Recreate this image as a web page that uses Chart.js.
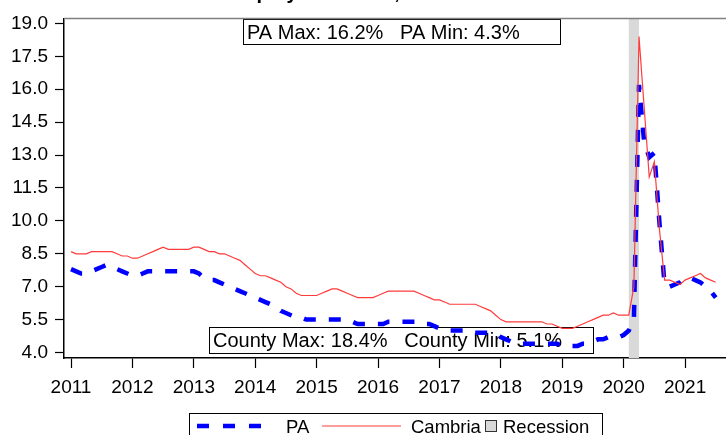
<!DOCTYPE html>
<html>
<head>
<meta charset="utf-8">
<script src="https://cdn.jsdelivr.net/npm/chart.js@4.4.1/dist/chart.umd.min.js"></script>
<style>
  html, body { margin: 0; padding: 0; background: #fff; }
  #wrap { width: 726px; height: 435px; position: relative; }
</style>
</head>
<body>
<div id="wrap"><canvas id="chart"></canvas></div>
<script>
// Місячні значення, січень 2011 - липень 2021 (індекс місяця = позиція в масиві)
const pa = [
    7.8, 7.7, 7.6, 7.6, 7.7, 7.8, 7.9, 8.0, 7.9, 7.8, 7.7, 7.6,   // 2011
    7.5, 7.5, 7.6, 7.7, 7.7, 7.7, 7.7, 7.7, 7.7, 7.7, 7.7, 7.7,   // 2012
    7.7, 7.6, 7.4, 7.3, 7.3, 7.2, 7.1, 7.0, 6.9, 6.8, 6.7, 6.6,   // 2013
    6.5, 6.4, 6.3, 6.2, 6.1, 5.9, 5.8, 5.7, 5.6, 5.6, 5.5, 5.5,   // 2014
    5.5, 5.5, 5.5, 5.5, 5.5, 5.5, 5.4, 5.4, 5.3, 5.3, 5.3, 5.3,   // 2015
    5.3, 5.3, 5.4, 5.4, 5.4, 5.4, 5.4, 5.4, 5.4, 5.3, 5.3, 5.2,   // 2016
    5.1, 5.0, 5.0, 5.0, 5.0, 5.0, 4.9, 4.9, 4.9, 4.9, 4.9, 4.8,   // 2017
    4.7, 4.6, 4.5, 4.5, 4.4, 4.4, 4.4, 4.4, 4.4, 4.4, 4.4, 4.4,   // 2018
    4.3, 4.3, 4.3, 4.3, 4.4, 4.4, 4.5, 4.6, 4.6, 4.7, 4.7, 4.7,   // 2019
    4.8, 5.0, 5.5, 16.2, 13.6, 12.9, 13.1, 9.9, 7.1, 7.0, 7.1, 7.2, // 2020
    7.4, 7.4, 7.3, 7.2, 7.0, 6.8, 6.5                              // 2021
];
const cambria = [
    8.6, 8.5, 8.5, 8.5, 8.6, 8.6, 8.6, 8.6, 8.6, 8.5, 8.4, 8.4,   // 2011
    8.3, 8.3, 8.4, 8.5, 8.6, 8.7, 8.8, 8.7, 8.7, 8.7, 8.7, 8.7,   // 2012
    8.8, 8.8, 8.7, 8.6, 8.6, 8.5, 8.5, 8.4, 8.3, 8.2, 8.0, 7.8,   // 2013
    7.6, 7.5, 7.5, 7.4, 7.3, 7.2, 7.0, 6.9, 6.7, 6.6, 6.6, 6.6,   // 2014
    6.6, 6.7, 6.8, 6.9, 6.9, 6.8, 6.7, 6.6, 6.5, 6.5, 6.5, 6.5,   // 2015
    6.6, 6.7, 6.8, 6.8, 6.8, 6.8, 6.8, 6.8, 6.7, 6.6, 6.5, 6.4,   // 2016
    6.4, 6.3, 6.2, 6.2, 6.2, 6.2, 6.2, 6.2, 6.1, 6.0, 5.9, 5.7,   // 2017
    5.5, 5.4, 5.4, 5.4, 5.4, 5.4, 5.4, 5.4, 5.4, 5.3, 5.3, 5.2,   // 2018
    5.1, 5.1, 5.1, 5.2, 5.3, 5.4, 5.5, 5.6, 5.7, 5.7, 5.8, 5.7,   // 2019
    5.7, 5.7, 7.0, 18.4, 15.2, 12.0, 12.7, 9.6, 7.3, 7.3, 7.2, 7.1, // 2020
    7.3, 7.4, 7.5, 7.6, 7.4, 7.3, 7.2                              // 2021
];
const years = ['2011', '2012', '2013', '2014', '2015', '2016', '2017', '2018', '2019', '2020', '2021'];
const yTicks = [4.0, 5.5, 7.0, 8.5, 10.0, 11.5, 13.0, 14.5, 16.0, 17.5, 19.0];
// Рецесія: лютий 2020 - квітень 2020 (індекси місяців)
const recession = [109, 111];

const FONT = 'Liberation Sans, Arial, sans-serif';
const BLUE = '#0000ff';
const RED = '#ff3b3b';
const SHADE = '#d9d9d9';

const paMax = Math.max(...pa).toFixed(1);
const paMin = Math.min(...pa).toFixed(1);
const cMax = Math.max(...cambria).toFixed(1);
const cMin = Math.min(...cambria).toFixed(1);

// Сіра смуга рецесії + рамки з підписами (під лініями)
const underlay = {
    id: 'underlay',
    beforeDatasetsDraw(chart) {
        const {ctx, chartArea: a, scales: {x}} = chart;
        ctx.save();
        const x0 = x.getPixelForValue(recession[0]);
        const x1 = x.getPixelForValue(recession[1]);
        ctx.fillStyle = SHADE;
        ctx.fillRect(x0, a.top, x1 - x0, a.bottom - a.top);

        ctx.font = `20px ${FONT}`;
        ctx.textBaseline = 'middle';
        const boxes = [
            {x: 243.5, y: 19.5, w: 317, h: 25, text: `PA Max: ${paMax}%   PA Min: ${paMin}%`},
            {x: 209.5, y: 327.5, w: 384, h: 26, text: `County Max: ${cMax}%   County Min: ${cMin}%`}
        ];
        boxes.forEach(b => {
            ctx.fillStyle = '#fff';
            ctx.fillRect(b.x, b.y, b.w, b.h);
            ctx.strokeStyle = '#000';
            ctx.lineWidth = 1;
            ctx.strokeRect(b.x, b.y, b.w, b.h);
            ctx.fillStyle = '#000';
            ctx.fillText(b.text, b.x + 3.5, b.y + b.h / 2 + 1);
        });
        ctx.restore();
    }
};

// Верхня рамка, заголовок (обрізаний) і легенда
const overlay = {
    id: 'overlay',
    afterDraw(chart) {
        const {ctx, chartArea: a} = chart;
        ctx.save();
        ctx.strokeStyle = '#808080';
        ctx.lineWidth = 1.5;
        ctx.beginPath();
        ctx.moveTo(a.left, a.top);
        ctx.lineTo(a.right, a.top);
        ctx.stroke();

        ctx.fillStyle = '#000';
        ctx.font = `bold 20px ${FONT}`;
        ctx.textBaseline = 'alphabetic';
        ctx.fillText('Unemployment Rate, 2011-2021', 201, -1);

        // легенда
        ctx.strokeStyle = '#000';
        ctx.lineWidth = 1;
        ctx.strokeRect(189.5, 413.5, 413, 30);
        const ly = 426;
        ctx.strokeStyle = BLUE;
        ctx.lineWidth = 4.5;
        ctx.setLineDash([12, 14]);
        ctx.beginPath();
        ctx.moveTo(197, ly);
        ctx.lineTo(265, ly);
        ctx.stroke();
        ctx.setLineDash([]);
        ctx.strokeStyle = RED;
        ctx.lineWidth = 1.2;
        ctx.beginPath();
        ctx.moveTo(322, ly);
        ctx.lineTo(401, ly);
        ctx.stroke();
        ctx.fillStyle = SHADE;
        ctx.fillRect(485.5, 420.5, 11, 11);
        ctx.strokeStyle = '#333';
        ctx.lineWidth = 1;
        ctx.strokeRect(485.5, 420.5, 11, 11);

        ctx.fillStyle = '#000';
        ctx.font = `18.5px ${FONT}`;
        ctx.fillText('PA', 286, 433);
        ctx.fillText('Cambria', 411, 433);
        ctx.fillText('Recession', 503, 433);
        ctx.restore();
    }
};

const toPoints = arr => arr.map((v, i) => ({x: i, y: v}));

new Chart(document.getElementById('chart'), {
    type: 'line',
    data: {
        datasets: [
            {
                label: 'PA',
                data: toPoints(pa),
                borderColor: BLUE,
                borderWidth: 4.5,
                borderDash: [12, 13],
                pointRadius: 0,
                tension: 0,
                order: 1,
            },
            {
                label: 'Cambria',
                data: toPoints(cambria),
                borderColor: RED,
                borderWidth: 1.2,
                pointRadius: 0,
                tension: 0,
                order: 0,
            }
        ]
    },
    options: {
        responsive: true,
        maintainAspectRatio: false,
        animation: false,
        layout: {padding: {top: 14, right: 0, bottom: 40, left: 0}},
        plugins: {legend: {display: false}, tooltip: {enabled: false}},
        scales: {
            x: {
                type: 'linear',
                min: -1.37,
                max: 128,
                afterBuildTicks: s => { s.ticks = years.map((_, i) => ({value: i * 12})); },
                afterFit: s => { s.height = 37; },
                ticks: {
                    autoSkip: false,
                    maxRotation: 0,
                    padding: 8,
                    color: '#000',
                    font: {family: FONT, size: 19},
                    callback: v => years[Math.round(v / 12)]
                },
                grid: {display: true, drawOnChartArea: false, drawTicks: true, tickLength: 10, color: '#000', tickColor: '#000', tickWidth: 1.2},
                border: {display: true, color: '#000', width: 1.5}
            },
            y: {
                min: 3.75,
                max: 19.23,
                afterBuildTicks: s => { s.ticks = yTicks.map(v => ({value: v})); },
                afterFit: s => { s.width = 64; },
                ticks: {
                    autoSkip: false,
                    padding: 7,
                    color: '#000',
                    font: {family: FONT, size: 19},
                    callback: v => v.toFixed(1)
                },
                grid: {display: true, drawOnChartArea: false, drawTicks: true, tickLength: 9, color: '#000', tickColor: '#000', tickWidth: 1.2},
                border: {display: true, color: '#000', width: 1.5}
            }
        }
    },
    plugins: [underlay, overlay]
});
</script>
</body>
</html>
